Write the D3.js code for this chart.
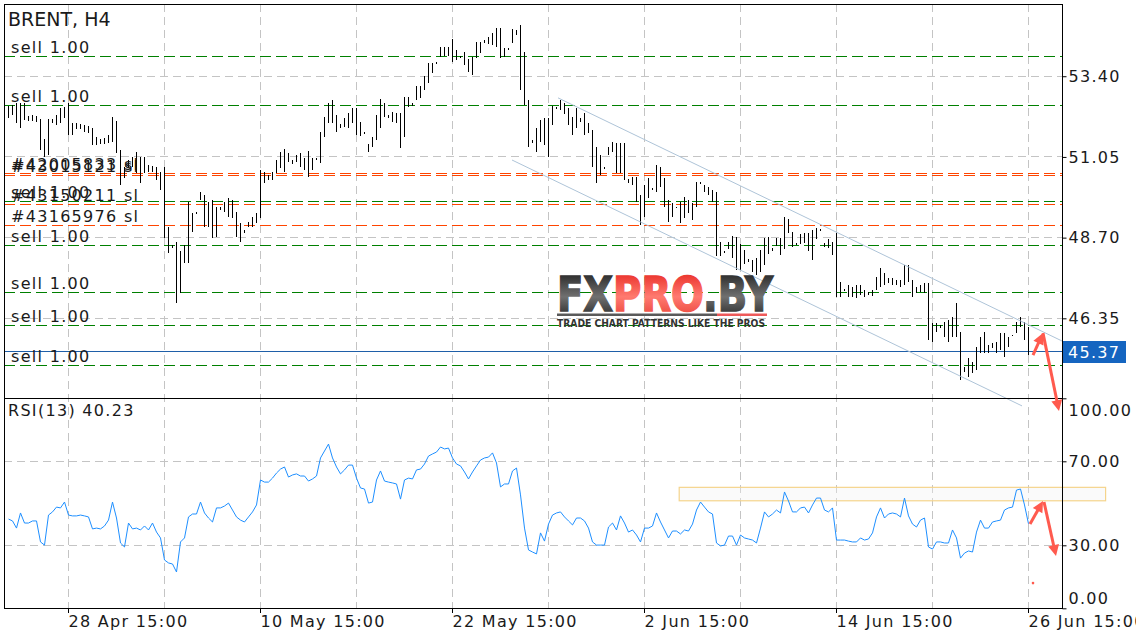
<!DOCTYPE html>
<html><head><meta charset="utf-8">
<script src="https://cdn.jsdelivr.net/npm/d3@7"></script>
<style>body{margin:0;background:#fff}svg{display:block}text{font-family:"DejaVu Sans",sans-serif}</style>
</head><body><svg id="c" width="1136" height="640"></svg>
<script>
// ---- data (BRENT H4) ----
const barHigh=[
52.54,52.56,52.62,52.62,52.62,52.25,52.27,52.25,52.16,51.57,
52.16,52.16,52.27,52.48,52.50,52.62,52.03,52.03,52.00,51.98,
51.95,51.89,51.63,51.57,51.60,51.68,52.22,52.09,51.25,50.76,
50.96,51.05,51.19,51.05,51.05,50.81,50.79,50.76,50.61,50.76,
49.01,48.49,48.57,48.31,48.49,49.74,49.41,49.44,50.03,49.94,
49.74,49.80,49.59,49.59,49.74,49.85,49.80,49.44,49.12,48.92,
49.15,49.30,49.41,50.67,50.61,50.52,50.61,50.96,51.19,51.28,
51.16,50.96,51.10,51.16,51.02,51.22,51.02,51.02,51.77,52.22,
52.62,52.71,52.27,52.00,52.19,52.33,52.48,52.48,52.06,51.77,
51.42,51.63,52.27,52.74,52.62,52.27,52.36,52.33,52.33,52.80,
52.80,52.62,53.11,53.11,53.41,53.78,53.78,53.81,54.25,54.25,
54.25,54.48,54.16,53.99,54.10,53.90,53.96,54.39,54.39,54.45,
54.54,54.66,54.80,54.80,54.22,54.22,54.77,54.75,54.89,54.10,
52.71,51.54,51.89,52.12,52.19,52.19,52.54,52.50,52.71,52.62,
52.48,52.22,52.48,52.19,52.33,52.03,51.83,51.34,51.10,50.76,
51.34,51.48,51.45,51.45,51.45,50.41,50.47,50.47,49.94,50.23,
50.44,50.15,50.81,50.76,50.44,49.80,49.71,49.59,49.74,49.88,
49.80,49.71,50.32,50.32,50.23,50.17,50.09,50.03,48.57,48.31,
48.57,48.75,48.72,48.51,48.34,48.08,48.05,48.11,48.34,48.69,
48.72,48.40,48.69,48.69,49.30,49.24,48.86,48.54,48.80,48.83,
48.83,48.92,48.98,48.95,48.54,48.66,48.57,48.83,47.41,47.20,
47.32,47.26,47.32,47.32,47.17,47.12,47.17,47.55,47.81,47.67,
47.52,47.52,47.46,47.46,47.90,47.90,47.46,47.26,47.32,47.38,
47.38,46.21,46.21,46.15,46.24,46.30,46.39,46.80,45.95,44.93,
45.19,45.08,45.52,45.81,45.95,45.57,45.63,45.66,45.92,45.92,
45.81,45.86,46.24,46.39,46.24,46.10];
const barLow=[
52.19,52.27,52.03,51.88,52.12,52.09,52.09,52.06,51.25,51.05,
51.10,52.03,51.98,52.03,52.19,51.68,51.68,51.86,51.86,51.77,
51.74,51.39,51.39,51.42,51.42,51.45,51.48,51.16,50.23,50.44,
50.73,50.76,50.58,50.29,50.58,50.61,50.61,50.38,50.09,48.69,
48.25,48.40,46.80,47.08,47.96,47.96,48.86,49.38,49.80,49.01,
49.01,48.69,48.72,49.50,49.44,49.30,49.27,48.72,48.57,48.83,
49.01,49.01,49.12,49.27,50.29,50.38,50.38,50.58,50.73,50.61,
50.90,50.84,50.90,50.76,50.67,50.47,50.67,50.96,50.87,51.63,
52.03,52.03,51.77,51.89,51.92,51.89,52.03,51.68,51.66,51.71,
51.19,51.34,51.54,51.89,52.22,52.19,52.06,52.03,51.31,51.63,
52.50,52.54,52.71,52.77,53.00,53.20,53.49,53.75,53.96,53.99,
53.99,53.81,53.87,53.93,53.73,53.52,53.43,53.93,54.08,54.36,
54.34,54.31,54.25,53.93,53.96,54.16,54.36,54.60,53.00,52.56,
51.34,51.45,51.19,51.48,51.39,51.05,51.98,52.45,52.42,52.30,
51.98,51.68,51.89,52.06,51.68,51.74,50.76,50.29,50.52,50.70,
51.10,51.19,50.58,50.58,50.38,50.29,50.23,49.74,49.07,49.30,
49.85,50.09,50.03,50.17,49.59,49.15,49.30,49.56,49.12,49.27,
49.41,49.21,49.59,50.26,50.03,49.94,49.74,48.17,48.17,48.25,
48.37,48.11,47.76,47.76,47.93,47.99,47.70,47.61,47.70,47.90,
48.22,48.31,48.46,48.19,48.37,48.83,48.43,48.49,48.51,48.54,
48.31,48.05,48.66,48.89,48.43,48.40,48.19,46.97,46.97,47.14,
46.97,46.97,46.94,47.03,46.97,47.03,47.00,47.17,47.26,47.32,
47.38,47.32,47.32,47.26,47.32,47.41,46.97,47.08,47.12,47.08,
45.72,45.66,45.95,46.07,45.81,45.66,45.81,45.81,44.55,44.79,
44.64,44.76,44.85,45.34,45.34,45.34,45.49,45.34,45.43,45.22,
45.52,45.84,45.92,46.10,45.72,45.28];
const rsiValues=[
42.5,41.6,38.2,45.4,40.6,40.6,41.6,41.6,31.6,30.1,
44.4,45.9,48.2,47.8,50.6,44.4,44.0,44.0,44.4,44.0,
43.5,37.8,38.2,37.8,39.2,42.0,50.6,43.0,31.1,29.2,
40.6,37.8,38.2,37.3,39.2,37.3,40.6,36.3,33.5,23.0,
21.6,21.1,17.3,31.6,33.5,43.5,44.9,44.9,50.6,45.4,
43.0,41.1,47.8,47.8,48.7,50.1,46.8,43.5,42.0,41.1,
43.5,45.9,49.2,61.1,60.1,60.1,62.0,64.4,66.3,67.3,
62.5,63.5,64.0,63.0,63.0,60.6,61.6,63.0,71.6,74.9,
78.2,71.6,67.3,64.0,65.9,68.2,68.2,62.0,57.3,56.8,
50.1,50.6,61.1,65.4,60.6,60.1,59.7,59.2,52.0,61.1,
62.0,61.6,65.9,66.3,68.7,72.5,73.5,74.4,76.8,75.9,
76.3,71.6,68.7,67.8,64.9,61.6,64.9,67.8,70.6,71.6,
72.0,74.0,69.2,57.8,59.2,59.2,65.4,66.8,54.0,38.2,
27.8,26.8,25.9,35.9,32.0,40.1,44.4,45.4,45.9,43.5,
41.6,39.7,43.0,43.0,41.6,38.2,31.6,30.1,30.1,30.1,
38.7,40.6,37.3,44.0,40.6,36.3,37.3,34.9,31.6,38.2,
38.2,39.2,45.4,41.1,37.3,33.5,36.8,36.8,35.4,37.3,
36.8,40.1,46.8,50.6,48.2,45.9,44.9,31.1,29.7,30.1,
34.4,34.4,30.1,34.9,33.5,33.0,32.5,31.1,38.2,45.9,
43.5,44.9,46.8,45.4,55.4,51.1,45.9,45.9,47.8,48.2,
45.4,49.2,52.5,52.5,46.8,45.9,47.8,32.5,32.5,32.5,
32.0,31.6,31.6,33.5,32.5,33.0,35.9,43.5,47.8,43.0,
44.9,45.4,44.9,43.5,52.5,44.0,40.1,38.7,42.0,43.0,
29.2,28.2,31.6,31.6,31.1,31.1,37.3,33.5,23.9,26.3,
27.3,26.8,36.3,42.0,38.2,38.2,41.1,41.6,42.0,46.8,
47.8,48.2,56.3,56.8,49.2,40.23];
const timeLabels=["28 Apr 15:00","10 May 15:00","22 May 15:00","2 Jun 15:00","14 Jun 15:00","26 Jun 15:00"];
const timeLabelIdx=[15,63,111,159,207,255];
const gridIdx=[15,39,63,87,111,135,159,183,207,231,255];
const priceTicks=[53.40,51.05,48.70,46.35];
const rsiTicks=[100,70,30,0];
const rsiGrid=[70,30];
const sellLevels=[53.97,52.55,49.75,48.46,47.10,46.13,44.99];
const sellLabel="sell 1.00";
const slLevels=[50.57,50.50,49.66,49.06];
const slLabels=["#42005833 sl","#43015121 sl","#43150211 sl","#43165976 sl"];
const lastPrice=45.37;
const rsiPeriod=13, rsiLast=40.23;
const symbolTitle="BRENT, H4";
const channelUpper=[[137.5,52.77],[263.5,45.69]];
const channelLower=[[126,50.96],[253.5,43.80]];
const rsiBox=[[167.8,57.6],[274.4,51.2]];
const arrowsMain=[[[256.25,45.28],[258.75,45.92]],[[258.75,45.92],[262.75,43.65]]];
const arrowsRsi=[[[255.5,40.1],[258.75,51.1]],[[259,50.6],[262,24.9]]];
const rsiDot=[256.25,12.0];

// ---- layout ----
const L=4,R=1062,T=4,MB=398,RB=608;
const svg=d3.select("#c");
const x=d3.scaleLinear().domain([0,255]).range([8,1028]);
const y=d3.scaleLinear().domain([44.03,55.503]).range([MB,T]);
const yr=d3.scaleLinear().domain([0,100]).range([608.3,398.3]);
const hp=v=>Math.floor(v)+0.5;
const txtStyle=s=>s.attr("font-size",16).attr("letter-spacing",1.3).attr("fill","#1a1a1a");

const defs=svg.append("defs");
function grad(id,stops){const g=defs.append("linearGradient").attr("id",id).attr("x1",0).attr("y1",0).attr("x2",0).attr("y2",1);
 stops.forEach(s=>g.append("stop").attr("offset",s[0]).attr("stop-color",s[1]));}
grad("gDark",[[0,"#151515"],[0.55,"#707070"],[1,"#1c1c1c"]]);
grad("gRed",[[0,"#e41c16"],[0.55,"#ff7a70"],[1,"#e63a30"]]);

// grid
const grid=svg.append("g").attr("stroke","#c4c4c4").attr("stroke-dasharray","8,5").attr("shape-rendering","crispEdges");
gridIdx.forEach(i=>grid.append("line").attr("x1",hp(x(i))).attr("x2",hp(x(i))).attr("y1",T).attr("y2",RB));
priceTicks.forEach(p=>grid.append("line").attr("x1",L).attr("x2",R).attr("y1",hp(y(p))).attr("y2",hp(y(p))));
rsiGrid.forEach(v=>grid.append("line").attr("x1",L).attr("x2",R).attr("y1",hp(yr(v))).attr("y2",hp(yr(v))));

// level lines
const lv=svg.append("g").attr("stroke-dasharray","11,5").attr("shape-rendering","crispEdges");
sellLevels.forEach(p=>lv.append("line").attr("x1",L).attr("x2",R).attr("y1",hp(y(p))).attr("y2",hp(y(p))).attr("stroke","#008000"));
slLevels.forEach(p=>lv.append("line").attr("x1",L).attr("x2",R).attr("y1",hp(y(p))).attr("y2",hp(y(p))).attr("stroke","#ff4500"));
svg.append("line").attr("x1",L).attr("x2",R).attr("y1",hp(y(lastPrice))).attr("y2",hp(y(lastPrice))).attr("stroke","#1f5fa8").attr("shape-rendering","crispEdges");

// bars
svg.append("g").selectAll("rect").data(barHigh).join("rect")
 .attr("x",(d,i)=>Math.round(x(i))).attr("width",1)
 .attr("y",d=>Math.round(y(d)))
 .attr("height",(d,i)=>Math.max(1,Math.round(y(barLow[i]))-Math.round(y(d))))
 .attr("fill","#000");

// RSI box
svg.append("rect").attr("x",x(rsiBox[0][0])).attr("y",yr(rsiBox[0][1]))
 .attr("width",x(rsiBox[1][0])-x(rsiBox[0][0])).attr("height",yr(rsiBox[1][1])-yr(rsiBox[0][1]))
 .attr("fill","rgba(240,240,240,0.35)").attr("stroke","#f5d48c").attr("stroke-width",1.2);

// RSI line
svg.append("path").datum(rsiValues).attr("fill","none").attr("stroke","#1e8fff").attr("stroke-width",1)
 .attr("d",d3.line().x((d,i)=>x(i)+0.5).y(d=>yr(d)));

// channel
[channelUpper,channelLower].forEach(c=>svg.append("line").attr("x1",x(c[0][0])).attr("y1",y(c[0][1])).attr("x2",x(c[1][0])).attr("y2",y(c[1][1])).attr("stroke","#aec4d8").attr("stroke-width",1));

// borders
const bd=svg.append("g").attr("stroke","#000").attr("shape-rendering","crispEdges");
bd.append("line").attr("x1",L+0.5).attr("x2",L+0.5).attr("y1",T).attr("y2",RB+0.5);
bd.append("line").attr("x1",R+0.5).attr("x2",R+0.5).attr("y1",T).attr("y2",RB+0.5);
bd.append("line").attr("x1",L).attr("x2",R+1).attr("y1",T+0.5).attr("y2",T+0.5);
bd.append("line").attr("x1",L).attr("x2",R+1).attr("y1",MB+0.5).attr("y2",MB+0.5);
bd.append("line").attr("x1",L).attr("x2",R+1).attr("y1",RB+0.5).attr("y2",RB+0.5);

// axes
const ax1=svg.append("g").attr("transform",`translate(${R+0.5},0)`)
 .call(d3.axisRight(y).tickValues(priceTicks).tickSize(4).tickPadding(2).tickFormat(d3.format(".2f")));
const ax2=svg.append("g").attr("transform",`translate(${R+0.5},0)`)
 .call(d3.axisRight(yr).tickValues(rsiTicks).tickSize(4).tickPadding(2).tickFormat(d3.format(".2f")));
ax2.selectAll(".tick text").attr("dy",d=>d===100?"1.1em":(d===0?"-0.33em":"0.32em"));
const ax3=svg.append("g").attr("transform",`translate(0,${RB})`)
 .call(d3.axisBottom(x).tickValues(timeLabelIdx).tickSize(5).tickPadding(3).tickFormat((d,i)=>timeLabels[i]));
ax3.selectAll(".tick text").attr("text-anchor","start");
[ax1,ax2,ax3].forEach(a=>{a.select(".domain").remove();a.selectAll(".tick line").attr("stroke","#000");
 a.selectAll(".tick text").attr("font-family","DejaVu Sans").call(txtStyle);});

// last price tag
svg.append("rect").attr("x",1063).attr("y",Math.round(y(lastPrice))-11).attr("width",63).attr("height",22).attr("fill","#1565c0");
svg.append("text").attr("x",1068).attr("y",Math.round(y(lastPrice))+5.5).text(lastPrice.toFixed(2)).call(txtStyle).attr("fill","#fff");

// labels
svg.append("text").attr("x",8).attr("y",26).attr("font-size",19).attr("fill","#1a1a1a").text(symbolTitle);
sellLevels.forEach(p=>svg.append("text").attr("x",11).attr("y",Math.floor(y(p))-3).text(sellLabel).call(txtStyle));
slLevels.forEach((p,i)=>svg.append("text").attr("x",11).attr("y",Math.floor(y(p))-3).text(slLabels[i]).call(txtStyle));
svg.append("text").attr("x",8).attr("y",416).text(`RSI(${rsiPeriod}) ${rsiLast.toFixed(2)}`).call(txtStyle);

// logo
const lg=svg.append("g");
const lt=lg.append("text").attr("x",557).attr("y",311).attr("font-size",48).attr("font-weight","bold")
 .attr("textLength",216).attr("lengthAdjust","spacingAndGlyphs").attr("letter-spacing",0).attr("stroke-width",1.6);
lt.append("tspan").attr("fill","url(#gDark)").attr("stroke","url(#gDark)").text("FX");
lt.append("tspan").attr("fill","url(#gRed)").attr("stroke","url(#gRed)").text("PRO");
lt.append("tspan").attr("fill","url(#gDark)").attr("stroke","url(#gDark)").text(".BY");
lg.append("rect").attr("x",557).attr("y",313.5).attr("width",160).attr("height",2.5).attr("fill","#5a5a5a");
lg.append("rect").attr("x",717).attr("y",313.5).attr("width",50).attr("height",2.5).attr("fill","#ee5a5a");
lg.append("text").attr("x",557).attr("y",327).attr("font-size",10).attr("font-weight","bold").attr("fill","#333")
 .attr("textLength",208).attr("lengthAdjust","spacingAndGlyphs").text("TRADE CHART PATTERNS LIKE THE PROS");

// arrows
function arrow(p0,p1){
 const dx=p1[0]-p0[0],dy=p1[1]-p0[1],len=Math.hypot(dx,dy),ux=dx/len,uy=dy/len,hl=11,hw=5.5;
 const bx=p1[0]-ux*hl,by=p1[1]-uy*hl;
 svg.append("line").attr("x1",p0[0]).attr("y1",p0[1]).attr("x2",bx+ux*1).attr("y2",by+uy*1).attr("stroke","#ff5a4e").attr("stroke-width",3);
 svg.append("path").attr("d",`M${p1[0]},${p1[1]}L${bx-uy*hw},${by+ux*hw}L${bx+uy*hw},${by-ux*hw}Z`).attr("fill","#ff5a4e");
}
arrowsMain.forEach(a=>arrow([x(a[0][0]),y(a[0][1])],[x(a[1][0]),y(a[1][1])]));
arrowsRsi.forEach(a=>arrow([x(a[0][0]),yr(a[0][1])],[x(a[1][0]),yr(a[1][1])]));
svg.append("circle").attr("cx",x(rsiDot[0])).attr("cy",yr(rsiDot[1])).attr("r",1.3).attr("fill","#ff5a4e");
</script></body></html>
